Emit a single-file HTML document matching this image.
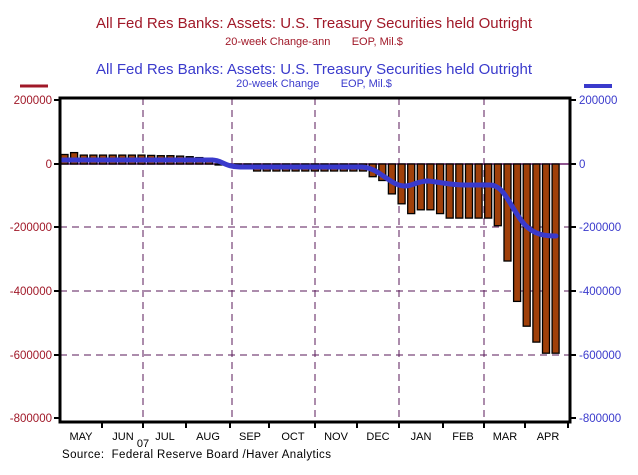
<!DOCTYPE html>
<html><head><style>
body{margin:0;background:#fff;width:638px;height:470px;overflow:hidden}
svg{font-family:"Liberation Sans",Arial,sans-serif}
</style></head><body>
<svg width="638" height="470" viewBox="0 0 638 470" xmlns="http://www.w3.org/2000/svg">
<text x="314" y="28" font-size="15" fill="#a01828" text-anchor="middle">All Fed Res Banks: Assets: U.S. Treasury Securities held Outright</text>
<text x="314" y="45" font-size="11" fill="#a01828" text-anchor="middle" xml:space="preserve">20-week Change-ann       EOP, Mil.$</text>
<text x="314" y="74" font-size="15" fill="#3a3acc" text-anchor="middle">All Fed Res Banks: Assets: U.S. Treasury Securities held Outright</text>
<text x="314" y="87" font-size="11" fill="#3a3acc" text-anchor="middle" xml:space="preserve">20-week Change       EOP, Mil.$</text>
<line x1="20" y1="86" x2="48" y2="86" stroke="#a01828" stroke-width="3"/>
<line x1="584" y1="86" x2="612" y2="86" stroke="#3a3acc" stroke-width="4"/>
<g stroke="#5a1a5a" stroke-width="1" stroke-dasharray="7,5" fill="none">
<line x1="143" y1="98" x2="143" y2="421"/><line x1="232" y1="98" x2="232" y2="421"/>
<line x1="315" y1="98" x2="315" y2="421"/><line x1="399" y1="98" x2="399" y2="421"/>
<line x1="484" y1="98" x2="484" y2="421"/>
<line x1="60" y1="227" x2="570" y2="227"/><line x1="60" y1="291" x2="570" y2="291"/><line x1="60" y1="355" x2="570" y2="355"/>
</g>
<line x1="60" y1="164" x2="570" y2="164" stroke="#6a1a6a" stroke-width="1.5"/>
<g fill="#a0400a" stroke="#000" stroke-width="1.3">
<rect x="61.0" y="154.5" width="7" height="9.5"/>
<rect x="70.6" y="152.6" width="7" height="11.4"/>
<rect x="80.3" y="155.1" width="7" height="8.9"/>
<rect x="89.9" y="155.1" width="7" height="8.9"/>
<rect x="99.5" y="155.1" width="7" height="8.9"/>
<rect x="109.2" y="155.1" width="7" height="8.9"/>
<rect x="118.8" y="155.1" width="7" height="8.9"/>
<rect x="128.4" y="155.1" width="7" height="8.9"/>
<rect x="138.0" y="155.1" width="7" height="8.9"/>
<rect x="147.7" y="155.4" width="7" height="8.6"/>
<rect x="157.3" y="155.7" width="7" height="8.3"/>
<rect x="166.9" y="155.7" width="7" height="8.3"/>
<rect x="176.6" y="156.1" width="7" height="7.9"/>
<rect x="186.2" y="156.7" width="7" height="7.3"/>
<rect x="195.8" y="157.6" width="7" height="6.4"/>
<rect x="205.5" y="158.3" width="7" height="5.7"/>
<rect x="215.1" y="164" width="7" height="1"/>
<rect x="224.7" y="164" width="7" height="1"/>
<rect x="234.3" y="164" width="7" height="1"/>
<rect x="244.0" y="164" width="7" height="1"/>
<rect x="253.6" y="164" width="7" height="7"/>
<rect x="263.2" y="164" width="7" height="7"/>
<rect x="272.9" y="164" width="7" height="7"/>
<rect x="282.5" y="164" width="7" height="7"/>
<rect x="292.1" y="164" width="7" height="7"/>
<rect x="301.8" y="164" width="7" height="7"/>
<rect x="311.4" y="164" width="7" height="7"/>
<rect x="321.0" y="164" width="7" height="7"/>
<rect x="330.6" y="164" width="7" height="7"/>
<rect x="340.3" y="164" width="7" height="7"/>
<rect x="349.9" y="164" width="7" height="7"/>
<rect x="359.5" y="164" width="7" height="7"/>
<rect x="369.2" y="164" width="7" height="12.7"/>
<rect x="378.8" y="164" width="7" height="16.5"/>
<rect x="388.4" y="164" width="7" height="29.9"/>
<rect x="398.1" y="164" width="7" height="39.8"/>
<rect x="407.7" y="164" width="7" height="49.6"/>
<rect x="417.3" y="164" width="7" height="45.8"/>
<rect x="426.9" y="164" width="7" height="45.8"/>
<rect x="436.6" y="164" width="7" height="49.6"/>
<rect x="446.2" y="164" width="7" height="54.1"/>
<rect x="455.8" y="164" width="7" height="54.1"/>
<rect x="465.5" y="164" width="7" height="54.1"/>
<rect x="475.1" y="164" width="7" height="54.1"/>
<rect x="484.7" y="164" width="7" height="54.1"/>
<rect x="494.3" y="164" width="7" height="61.7"/>
<rect x="504.0" y="164" width="7" height="97.0"/>
<rect x="513.6" y="164" width="7" height="137.4"/>
<rect x="523.2" y="164" width="7" height="162.2"/>
<rect x="532.9" y="164" width="7" height="178.1"/>
<rect x="542.5" y="164" width="7" height="189.2"/>
<rect x="552.1" y="164" width="7" height="189.2"/>
</g>
<path d="M62,160 L212,160 C222,160 225,167 240,167 L362,167 C380,168 390,186 405,186 C412,186 418,181 428,181 C440,182 450,185 465,185 L490,185 C505,185 510,208 525,225 C535,235 545,236 556,236" stroke="#3a3acc" stroke-width="5" fill="none" stroke-linecap="round"/>
<rect x="60" y="98" width="510" height="324" fill="none" stroke="#000" stroke-width="3"/>
<g stroke="#000" stroke-width="2">
<line x1="54" y1="100" x2="60" y2="100"/><line x1="54" y1="164" x2="60" y2="164"/><line x1="54" y1="227" x2="60" y2="227"/><line x1="54" y1="291" x2="60" y2="291"/><line x1="54" y1="355" x2="60" y2="355"/><line x1="54" y1="418" x2="60" y2="418"/>
<line x1="570" y1="100" x2="576" y2="100"/><line x1="570" y1="164" x2="576" y2="164"/><line x1="570" y1="227" x2="576" y2="227"/><line x1="570" y1="291" x2="576" y2="291"/><line x1="570" y1="355" x2="576" y2="355"/><line x1="570" y1="418" x2="576" y2="418"/>
<line x1="102" y1="422" x2="102" y2="428"/><line x1="143" y1="422" x2="143" y2="428"/><line x1="186" y1="422" x2="186" y2="428"/><line x1="230" y1="422" x2="230" y2="428"/><line x1="269" y1="422" x2="269" y2="428"/><line x1="315" y1="422" x2="315" y2="428"/><line x1="357" y1="422" x2="357" y2="428"/><line x1="399" y1="422" x2="399" y2="428"/><line x1="443" y1="422" x2="443" y2="428"/><line x1="484" y1="422" x2="484" y2="428"/><line x1="525" y1="422" x2="525" y2="428"/><line x1="568" y1="422" x2="568" y2="428"/>
</g>
<g font-size="11.5" fill="#a01828" text-anchor="end">
<text x="52" y="104">200000</text><text x="52" y="168">0</text><text x="52" y="231">-200000</text><text x="52" y="295">-400000</text><text x="52" y="359">-600000</text><text x="52" y="422">-800000</text>
</g>
<g font-size="11.5" fill="#3a3acc">
<text x="579" y="104">200000</text><text x="579" y="168">0</text><text x="579" y="231">-200000</text><text x="579" y="295">-400000</text><text x="579" y="359">-600000</text><text x="579" y="422">-800000</text>
</g>
<g font-size="11" fill="#000" text-anchor="middle">
<text x="81" y="440">MAY</text><text x="123" y="440">JUN</text><text x="165" y="440">JUL</text><text x="208" y="440">AUG</text><text x="250" y="440">SEP</text><text x="293" y="440">OCT</text><text x="336" y="440">NOV</text><text x="378" y="440">DEC</text><text x="421" y="440">JAN</text><text x="463" y="440">FEB</text><text x="505" y="440">MAR</text><text x="548" y="440">APR</text>
<text x="143" y="447">07</text>
</g>
<text x="62" y="458" font-size="11.5" fill="#000" xml:space="preserve" letter-spacing="0.4">Source:  Federal Reserve Board /Haver Analytics</text>
</svg>
</body></html>
